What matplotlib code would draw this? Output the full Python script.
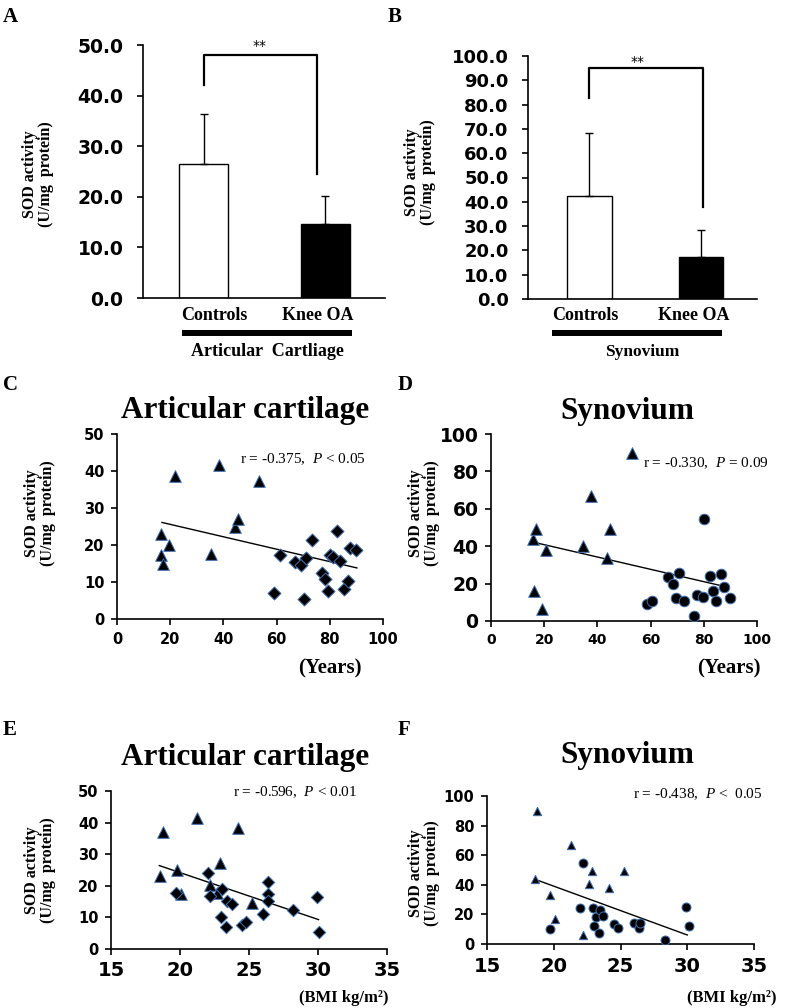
import numpy as np
import matplotlib.pyplot as plt
from matplotlib.lines import Line2D

plt.rcParams["mathtext.fontset"] = "custom"
plt.rcParams["mathtext.it"] = "Liberation Serif:italic"
plt.rcParams["mathtext.rm"] = "Liberation Serif"

W, H = 787, 1008

# --- bar panels (A, B) ---
groups = ["Controls", "Knee OA"]
cart_mean = [26.4, 14.6]
cart_sd = [10.0, 5.5]
syn_mean = [42.5, 17.3]
syn_sd = [26.0, 11.2]

# --- age scatter (C: cartilage, D: synovium) ---
c_tri_age = [16.4, 16.4, 17.3, 19.5, 21.7, 35.2, 38.3, 44.4, 45.4, 53.4]
c_tri_sod = [23.0, 17.4, 14.9, 20.1, 38.6, 17.7, 41.7, 24.9, 27.1, 37.2]
c_dia_age = [59.0, 61.2, 66.9, 69.3, 70.2, 70.9, 73.3, 76.9, 78.2, 79.3,
             80.0, 81.2, 82.8, 83.7, 85.3, 87.0, 87.7, 90.0]
c_dia_sod = [7.0, 17.4, 15.4, 14.6, 5.4, 16.5, 21.3, 12.4, 10.8, 7.7,
             17.2, 16.7, 23.8, 15.6, 8.2, 10.2, 19.2, 18.6]
c_fit_x = [16.9, 90.2]
c_fit_y = [26.1, 13.8]

d_tri_age = [15.8, 16.8, 16.0, 19.0, 20.7, 34.6, 37.6, 43.6, 44.6, 53.0]
d_tri_sod = [43.6, 49.4, 16.3, 6.4, 37.9, 40.1, 67.1, 33.5, 49.2, 89.6]
d_cir_age = [58.6, 60.7, 66.7, 68.4, 70.7, 69.7, 72.7, 76.4, 77.4, 79.7,
             80.2, 82.5, 83.5, 84.5, 86.5, 87.5, 89.7]
d_cir_sod = [8.9, 10.7, 23.3, 20.0, 25.8, 12.5, 10.6, 2.7, 14.1, 12.9,
             54.7, 24.3, 15.9, 10.6, 25.0, 18.2, 12.5]
d_fit_x = [15.8, 88.0]
d_fit_y = [42.2, 18.4]

# --- BMI scatter (E: cartilage, F: synovium) ---
e_tri_bmi = [18.75, 18.55, 19.76, 20.07, 21.2, 22.2, 22.7, 22.9, 24.2, 25.2]
e_tri_sod = [37.0, 23.0, 25.1, 17.4, 41.6, 20.2, 17.6, 27.2, 38.4, 14.7]
e_dia_bmi = [19.7, 22.06, 22.2, 23.03, 23.0, 23.35, 23.4, 23.75, 24.5, 24.75,
             26.0, 26.35, 26.4, 26.4, 28.2, 29.95, 30.05]
e_dia_sod = [17.7, 24.0, 16.8, 18.9, 10.0, 7.1, 15.3, 14.3, 7.6, 8.5,
             11.0, 21.3, 17.3, 15.3, 12.3, 16.5, 5.4]
e_fit_x = [18.5, 30.04]
e_fit_y = [26.4, 9.3]

f_tri_bmi = [18.75, 18.6, 19.75, 20.1, 21.3, 22.2, 22.66, 22.9, 24.16, 25.26]
f_tri_sod = [89.7, 43.7, 33.4, 16.8, 66.9, 6.3, 40.3, 49.3, 38.1, 49.3]
f_cir_bmi = [19.7, 22.2, 22.0, 22.97, 23.2, 23.46, 23.7, 23.05, 23.4, 24.5,
             24.8, 26.0, 26.35, 26.45, 28.3, 29.9, 30.1]
f_cir_sod = [10.3, 54.5, 24.1, 24.5, 18.0, 23.0, 18.9, 12.3, 7.6, 13.7,
             10.5, 14.1, 10.5, 14.5, 2.5, 25.2, 11.9]
f_fit_x = [18.6, 30.0]
f_fit_y = [43.7, 6.1]

SERIF = "Liberation Serif"
SANS = "DejaVu Sans"
EDGE = "#3d6fb3"

fig = plt.figure(figsize=(W / 100, H / 100), dpi=100)


def px_axes(l, t, r, b):
    return fig.add_axes([l / W, 1 - b / H, (r - l) / W, (b - t) / H])


def ftext(x, y, s, **kw):
    return fig.text(x / W, 1 - y / H, s, **kw)


def hbar(x1, x2, y, lw=4.3):
    fig.add_artist(Line2D([x1 / W, x2 / W], [1 - y / H, 1 - y / H],
                          transform=fig.transFigure, color="black", lw=lw,
                          solid_capstyle="butt"))


def style_axes(ax, xsize, ysize):
    for s in ["top", "right"]:
        ax.spines[s].set_visible(False)
    for s in ["left", "bottom"]:
        ax.spines[s].set_linewidth(1.2)
    ax.tick_params(direction="out", length=4, width=1.2)
    for lab in ax.get_xticklabels():
        lab.set_fontsize(xsize)
        lab.set_fontweight("bold")
        lab.set_family(SANS)
    for lab in ax.get_yticklabels():
        lab.set_fontsize(ysize)
        lab.set_fontweight("bold")
        lab.set_family(SANS)


def bar_panel(ax, means, sds, ymax, step, bracket, star, xlim, ysize):
    x = np.arange(len(means))
    ax.bar(x, means, width=0.4, color=["white", "black"], edgecolor="black", linewidth=1)
    ax.errorbar(x, means, yerr=[[0] * len(sds), sds], fmt="none", ecolor="black",
                elinewidth=1, capsize=3, capthick=1)
    bx = [bracket[0], bracket[0], bracket[1], bracket[1]]
    by = [bracket[2], bracket[4], bracket[4], bracket[3]]
    ax.plot(bx, by, color="black", lw=1.6, clip_on=False)
    ax.text(star[0], star[1], "**", ha="center", va="center", fontsize=10, clip_on=False)
    ax.set_xlim(*xlim)
    ax.set_ylim(0, ymax)
    ax.set_yticks(np.arange(0, ymax + 0.1, step))
    ax.set_yticklabels(["%.1f" % v for v in np.arange(0, ymax + 0.1, step)])
    ax.set_xticks([])
    style_axes(ax, 10, ysize)
    ax.tick_params(axis="y", pad=10)


# A
axA = px_axes(143, 45, 385, 298)
bar_panel(axA, cart_mean, cart_sd, 50, 10, (0.0, 0.93, 42.1, 24.5, 48.0), (0.46, 49.8),
          (-0.5, 1.49), 13.5)
# B
axB = px_axes(528, 56, 757, 299)
bar_panel(axB, syn_mean, syn_sd, 100, 10, (0.0, 1.02, 82.7, 38.0, 95.0), (0.43, 97.5),
          (-0.55, 1.5), 13)

lab_kw = dict(family=SERIF, fontweight="bold", ha="center", va="center")
ftext(214, 315, groups[0], fontsize=13, **lab_kw)
ftext(318, 315, groups[1], fontsize=13, **lab_kw)
hbar(182, 352, 333)
ftext(267, 351, "Articular  Cartliage", fontsize=13, **lab_kw)
ftext(585, 315, groups[0], fontsize=13, **lab_kw)
ftext(694, 315, groups[1], fontsize=13, **lab_kw)
hbar(552, 722, 333)
ftext(642, 352, "Synovium", fontsize=12.5, **lab_kw)

ylab = "SOD activity\n(U/mg  protein)"
ylab_kw = dict(family=SERIF, fontweight="bold", ha="center", va="center", rotation=90,
               multialignment="center", linespacing=1.0, fontsize=11.5)
ftext(38, 174, ylab, **ylab_kw)
ftext(420, 172, ylab, **ylab_kw)
ftext(40, 513, ylab, **ylab_kw)
ftext(424, 513, ylab, **ylab_kw)
ftext(40, 870, ylab, **ylab_kw)
ftext(424, 873, ylab, **ylab_kw)


def scatter_panel(ax, tx, ty, ox, oy, omarker, fx, fy, xlim, xstep, ymax, ystep,
                  tsize, osize, xsize, ysize):
    ax.plot(fx, fy, color="black", lw=1, zorder=2)
    ax.scatter(tx, ty, marker="^", s=tsize, color="black", edgecolors=EDGE,
               linewidths=0.7, zorder=3)
    ax.scatter(ox, oy, marker=omarker, s=osize, color="black", edgecolors=EDGE,
               linewidths=0.7, zorder=3)
    ax.set_xlim(*xlim)
    ax.set_ylim(0, ymax)
    ax.set_xticks(np.arange(xlim[0], xlim[1] + 0.1, xstep))
    ax.set_yticks(np.arange(0, ymax + 0.1, ystep))
    style_axes(ax, xsize, ysize)
    ax.tick_params(axis="x", pad=5)
    ax.tick_params(axis="y", pad=5)


axC = px_axes(117, 434, 383, 619)
scatter_panel(axC, c_tri_age, c_tri_sod, c_dia_age, c_dia_sod, "D", c_fit_x, c_fit_y,
              (0, 100), 20, 50, 10, 70, 44, 10.5, 10.5)
axD = px_axes(491, 434, 757, 621)
scatter_panel(axD, d_tri_age, d_tri_sod, d_cir_age, d_cir_sod, "o", d_fit_x, d_fit_y,
              (0, 100), 20, 100, 20, 70, 58, 10, 13.5)
axE = px_axes(111, 791, 387, 949)
scatter_panel(axE, e_tri_bmi, e_tri_sod, e_dia_bmi, e_dia_sod, "D", e_fit_x, e_fit_y,
              (15, 35), 5, 50, 10, 70, 40, 14, 10.5)
axF = px_axes(487, 796, 754, 944)
scatter_panel(axF, f_tri_bmi, f_tri_sod, f_cir_bmi, f_cir_sod, "o", f_fit_x, f_fit_y,
              (15, 35), 5, 100, 20, 36, 42, 14, 10.5)

# titles
title_kw = dict(family=SERIF, fontweight="bold", fontsize=22.5, ha="center", va="baseline")
ftext(245, 418, "Articular cartilage", **title_kw)
ftext(627, 419, "Synovium", **title_kw)
ftext(245, 765, "Articular cartilage", **title_kw)
ftext(627, 763, "Synovium", **title_kw)

# correlation notes
note_kw = dict(family=SERIF, fontsize=11, ha="left", va="baseline")
ftext(240, 463, "r = -0.375,  $\\mathit{P}$ < 0.05", **note_kw)
ftext(643, 467, "r = -0.330,  $\\mathit{P}$ = 0.09", **note_kw)
ftext(233, 796, "r = -0.596,  $\\mathit{P}$ < 0.01", **note_kw)
ftext(633, 798, "r = -0.438,  $\\mathit{P}$ <  0.05", **note_kw)

# axis unit labels
unit_kw = dict(family=SERIF, fontweight="bold", ha="left", va="baseline")
ftext(298, 673, "(Years)", fontsize=15, **unit_kw)
ftext(697, 673, "(Years)", fontsize=15, **unit_kw)
ftext(299, 1002, "(BMI kg/m²)", fontsize=12, **unit_kw)
ftext(687, 1002, "(BMI kg/m²)", fontsize=12, **unit_kw)

# panel letters
let_kw = dict(family=SERIF, fontweight="bold", fontsize=15, ha="left", va="baseline")
for letter, x, y in [("A", 3, 22), ("B", 388, 22), ("C", 3, 390), ("D", 398, 390),
                     ("E", 3, 735), ("F", 398, 735)]:
    ftext(x, y, letter, **let_kw)

fig.savefig("out.png", dpi=100)
